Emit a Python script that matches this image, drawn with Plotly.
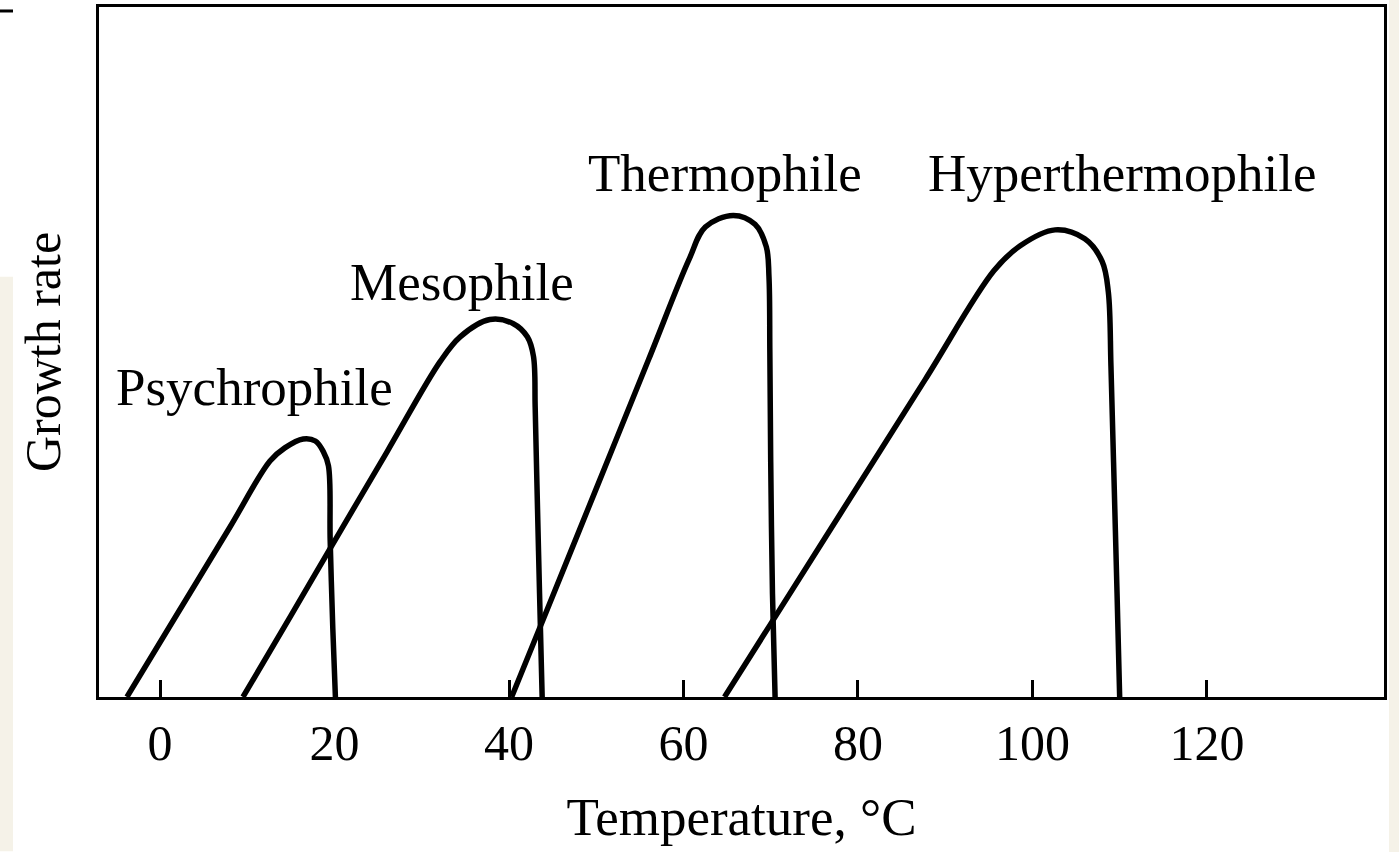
import plotly.graph_objects as go

# Growth curves: temperature (°C) vs. relative growth rate (arbitrary units, 0-100)
psychro_T = [-3.8, 2.0, 8.0, 12.6, 14.3, 16.4, 17.8, 18.7, 19.3, 19.5, 19.8, 20.1]
psychro_G = [0.0, 12.1, 24.6, 34.2, 36.1, 37.4, 37.1, 35.6, 33.5, 22.7, 10.0, 0.0]

meso_T = [9.5, 15.0, 20.6, 26.0, 32.1, 34.4, 37.8, 40.5, 42.1, 42.8, 43.0, 43.2, 43.5, 43.8]
meso_G = [0.0, 11.8, 23.9, 35.5, 48.6, 52.2, 54.7, 54.1, 52.2, 49.4, 42.0, 30.9, 15.0, 0.0]

thermo_T = [40.3, 44.1, 50.0, 56.0, 60.6, 62.5, 65.7, 68.2, 69.5, 69.8, 69.9, 70.0, 70.2, 70.5]
thermo_G = [0.0, 11.8, 30.2, 48.9, 63.3, 68.1, 69.8, 68.5, 65.2, 60.9, 50.0, 34.0, 15.0, 0.0]

hyper_T = [64.7, 69.8, 78.0, 87.7, 95.6, 98.6, 102.6, 106.0, 108.0, 108.7, 109.0, 109.3, 109.7, 110.0]
hyper_G = [0.0, 10.2, 26.6, 46.0, 61.8, 65.4, 67.7, 66.4, 63.1, 58.7, 48.0, 34.0, 15.0, 0.0]

series = [
    ("Psychrophile", psychro_T, psychro_G),
    ("Mesophile", meso_T, meso_G),
    ("Thermophile", thermo_T, thermo_G),
    ("Hyperthermophile", hyper_T, hyper_G),
]

# Label anchor positions (temperature, growth)
label_names = ["Psychrophile", "Mesophile", "Thermophile", "Hyperthermophile"]
label_T = [10.8, 34.6, 64.8, 110.3]
label_G = [45.0, 60.2, 76.0, 76.0]

x_ticks = [0, 20, 40, 60, 80, 100, 120]

SERIF = "Liberation Serif, Times New Roman, serif"

fig = go.Figure()
for name, t, g in series:
    fig.add_trace(go.Scatter(
        x=t, y=g, mode="lines", name=name,
        line=dict(color="black", width=5.5, shape="spline", smoothing=1.0),
        showlegend=False, hoverinfo="skip",
    ))

for name, t, g in zip(label_names, label_T, label_G):
    fig.add_annotation(
        x=t, y=g, text=name, showarrow=False,
        font=dict(family=SERIF, size=53, color="black"),
        xanchor="center", yanchor="middle",
    )

fig.update_xaxes(
    range=[-7.0, 140.3],
    tickvals=x_ticks, ticktext=[str(v) for v in x_ticks],
    ticks="inside", ticklen=17, tickwidth=2.5, tickcolor="black",
    showline=True, linecolor="black", linewidth=3, mirror=True,
    showgrid=False, zeroline=False,
    tickfont=dict(family=SERIF, size=50, color="black"),
    ticklabelstandoff=0,
    title=dict(text="Temperature, °C", font=dict(family=SERIF, size=53, color="black"), standoff=28),
)
fig.update_yaxes(
    range=[0, 100],
    showticklabels=False, ticks="",
    showline=True, linecolor="black", linewidth=3, mirror=True,
    showgrid=False, zeroline=False,
    title=dict(text="Growth rate", font=dict(family=SERIF, size=50, color="black"), standoff=20),
)

# paper-edge tint and small mark of the scanned page
fig.add_shape(type="rect", xref="paper", yref="paper",
              x0=1.0 + (1389 - 1384) / 1285, x1=1.0 + (1399 - 1384) / 1285, y0=-0.3, y1=1.01,
              fillcolor="#f5f2e8", line_width=0, layer="below")
fig.add_shape(type="rect", xref="paper", yref="paper",
              x0=-99 / 1285, x1=-86 / 1285, y0=-155 / 693, y1=(697 - 275) / 693,
              fillcolor="#f5f2e8", line_width=0, layer="below")
fig.add_shape(type="line", xref="paper", yref="paper",
              x0=-99 / 1285, x1=-86 / 1285, y0=(697 - 8) / 693, y1=(697 - 8) / 693,
              line=dict(color="black", width=3))

fig.update_layout(
    width=1399, height=852,
    margin=dict(l=99, r=15, t=4, b=155),
    paper_bgcolor="white", plot_bgcolor="white",
    font=dict(family=SERIF, color="black"),
)

fig.write_html(
    "out.html",
    config={"displayModeBar": False},
    post_script="document.body.style.margin='0';document.body.style.overflow='hidden';",
)
